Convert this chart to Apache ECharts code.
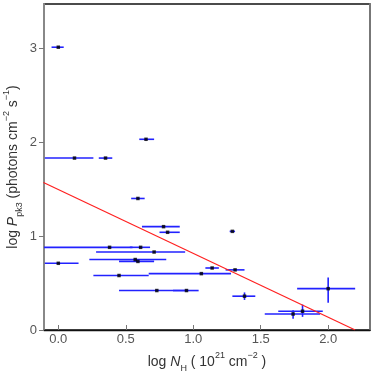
<!DOCTYPE html>
<html>
<head>
<meta charset="utf-8">
<script src="https://cdn.jsdelivr.net/npm/echarts@6/dist/echarts.min.js"></script>
<style>
  html, body { margin: 0; padding: 0; background: #fff; }
  #chart { width: 374px; height: 374px; }
</style>
</head>
<body>
<div id="chart"></div>
<script>
// log N_H and its error range
var nh   = [0.00, 0.12, 0.35, 0.65, 0.59, 0.78, 0.81, 1.29, 0.38, 0.61, 0.71, 0.00, 0.57, 0.59, 0.45, 1.06, 1.14, 1.31, 0.73, 0.95, 1.38, 2.00, 1.74, 1.81];
var nhLo = [-0.05, -0.10, 0.30, 0.60, 0.54, 0.62, 0.75, 1.27, -0.15, 0.53, 0.28, -0.10, 0.23, 0.45, 0.26, 0.67, 1.09, 1.24, 0.45, 0.85, 1.29, 1.77, 1.53, 1.63];
var nhHi = [0.04, 0.26, 0.40, 0.71, 0.64, 0.90, 0.90, 1.31, 0.55, 0.68, 0.94, 0.15, 0.80, 0.71, 0.67, 1.28, 1.19, 1.38, 0.96, 1.04, 1.46, 2.20, 1.94, 1.96];
// log P_pk3 and its error range
var pk   = [3.01, 1.83, 1.83, 2.03, 1.40, 1.10, 1.04, 1.05, 0.88, 0.88, 0.83, 0.71, 0.75, 0.73, 0.58, 0.60, 0.66, 0.64, 0.42, 0.42, 0.36, 0.44, 0.17, 0.20];
var pkLo = [3.00, 1.82, 1.82, 2.02, 1.39, 1.09, 1.03, 1.04, 0.87, 0.87, 0.82, 0.70, 0.74, 0.72, 0.57, 0.59, 0.65, 0.63, 0.41, 0.41, 0.32, 0.29, 0.12, 0.14];
var pkHi = [3.02, 1.84, 1.84, 2.04, 1.41, 1.11, 1.05, 1.06, 0.89, 0.89, 0.84, 0.72, 0.76, 0.74, 0.59, 0.61, 0.67, 0.65, 0.43, 0.43, 0.40, 0.56, 0.21, 0.27];
// fitted line end points
var fitX = [-0.11, 2.20];
var fitY = [1.57, 0.00];

var xTicks = [0, 0.5, 1, 1.5, 2];
var yTicks = [0, 1, 2, 3];

var errData = nh.map(function (v, i) {
  return [v, pk[i], nhLo[i], nhHi[i], pkLo[i], pkHi[i]];
});
var ptData = nh.map(function (v, i) { return [v, pk[i]]; });
var fitData = fitX.map(function (v, i) { return [v, fitY[i]]; });

var font = 'Liberation Sans, Arial, sans-serif';
var nameRich = {
  it: { fontSize: 14, fontStyle: 'italic', fontFamily: font, color: '#333', lineHeight: 22 },
  sub: { fontSize: 9, verticalAlign: 'bottom', fontFamily: font, color: '#333', lineHeight: 14 },
  sup: { fontSize: 9, verticalAlign: 'top', fontFamily: font, color: '#333', lineHeight: 13 }
};
var chart = echarts.init(document.getElementById('chart'));
chart.setOption({
  animation: false,
  grid: {
    left: 44, right: 4, top: 4, bottom: 44,
    outerBoundsMode: 'none', containLabel: false,
    show: true, borderColor: '#111', borderWidth: 1.3, backgroundColor: 'transparent'
  },
  xAxis: {
    type: 'value', min: -0.106, max: 2.31,
    splitLine: { show: false },
    axisLine: { onZero: false, lineStyle: { color: '#111', width: 1.3 } },
    axisTick: { inside: true, length: 5, customValues: xTicks, lineStyle: { color: '#777' } },
    axisLabel: {
      customValues: xTicks, margin: 3, color: '#555', fontSize: 13, fontFamily: font,
      formatter: function (v) { return v.toFixed(1); }
    },
    name: 'log {it|N}{sub|H} ( 10{sup|21} cm{sup|−2} )',
    nameLocation: 'middle', nameGap: 21,
    nameTextStyle: { color: '#333', fontSize: 14, fontFamily: font, lineHeight: 22, rich: nameRich }
  },
  yAxis: [{
    type: 'value', min: 0, max: 3.47,
    splitLine: { show: false },
    axisLine: { onZero: false, lineStyle: { color: '#888', width: 2 } },
    axisTick: { length: 5, customValues: yTicks, lineStyle: { color: '#777' } },
    axisLabel: { customValues: yTicks, margin: 7, color: '#555', fontSize: 13, fontFamily: font },
    name: 'log {it|P}{sub|pk3} (photons cm{sup|−2} s{sup|−1})',
    nameLocation: 'middle', nameGap: 20, nameMoveOverlap: false,
    nameTextStyle: { color: '#333', fontSize: 14, fontFamily: font, lineHeight: 22, rich: nameRich }
  }, {
    type: 'value', min: 0, max: 3.47, position: 'right',
    splitLine: { show: false },
    axisLine: { show: true, onZero: false, lineStyle: { color: '#777', width: 2 } },
    axisTick: { show: false }, axisLabel: { show: false }
  }],
  series: [{
    type: 'custom',
    clip: true,
    data: errData,
    encode: { x: 0, y: 1 },
    renderItem: function (params, api) {
      var y = api.value(1);
      var x = api.value(0);
      var l = api.coord([api.value(2), y]);
      var r = api.coord([api.value(3), y]);
      var b = api.coord([x, api.value(4)]);
      var t = api.coord([x, api.value(5)]);
      var st = { stroke: '#2222ff', lineWidth: 1.6 };
      return {
        type: 'group',
        children: [
          { type: 'line', shape: { x1: l[0], y1: l[1], x2: r[0], y2: r[1] }, style: st },
          { type: 'line', shape: { x1: b[0], y1: b[1], x2: t[0], y2: t[1] }, style: st }
        ]
      };
    },
    z: 2
  }, {
    type: 'scatter',
    data: ptData,
    symbol: 'rect',
    symbolSize: 3.5,
    itemStyle: { color: '#000' },
    z: 3
  }, {
    type: 'line',
    data: fitData,
    showSymbol: false,
    lineStyle: { color: '#ff2020', width: 1.2 },
    z: 4
  }]
});
</script>
</body>
</html>
